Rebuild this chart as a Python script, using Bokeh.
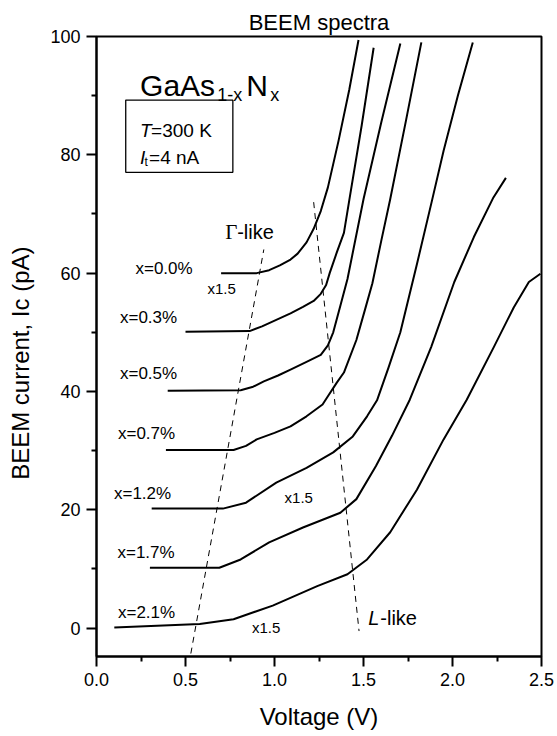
from bokeh.plotting import figure
from bokeh.models import Range1d, FixedTicker, Label, PrintfTickFormatter
from bokeh.embed import file_html
from bokeh.resources import INLINE

# ---------------- data ----------------
labels = ["x=0.0%", "x=0.3%", "x=0.5%", "x=0.7%", "x=1.2%", "x=1.7%", "x=2.1%"]

v_00 = [0.70, 0.90, 0.97, 1.03, 1.09, 1.13, 1.18, 1.22, 1.26, 1.30, 1.36, 1.42, 1.472]
i_00 = [60.0, 60.0, 60.5, 61.3, 62.3, 63.3, 65.2, 67.5, 70.5, 74.5, 82.4, 91.0, 99.4]

v_03 = [0.50, 0.86, 0.93, 1.01, 1.09, 1.16, 1.22, 1.26, 1.29, 1.31, 1.35, 1.39, 1.42, 1.49, 1.557]
i_03 = [50.1, 50.2, 51.0, 52.1, 53.2, 54.3, 55.3, 56.5, 58.0, 60.0, 63.5, 66.8, 72.3, 85.0, 98.1]

v_05 = [0.40, 0.81, 0.88, 0.94, 1.02, 1.09, 1.18, 1.26, 1.30, 1.33, 1.37, 1.41, 1.45, 1.50, 1.60, 1.707]
i_05 = [40.1, 40.2, 40.8, 41.7, 42.7, 43.7, 45.0, 46.2, 47.8, 50.0, 54.5, 59.0, 65.0, 72.5, 85.5, 98.8]

v_07 = [0.39, 0.77, 0.84, 0.90, 1.00, 1.09, 1.18, 1.27, 1.30, 1.35, 1.39, 1.46, 1.51, 1.55, 1.60, 1.65, 1.74, 1.825]
i_07 = [30.1, 30.1, 30.8, 31.9, 33.0, 34.1, 35.8, 37.8, 39.2, 41.5, 43.2, 48.7, 54.0, 58.3, 65.5, 72.5, 86.0, 99.0]

v_12 = [0.31, 0.71, 0.84, 1.01, 1.18, 1.33, 1.44, 1.52, 1.576, 1.64, 1.707, 1.80, 1.885, 1.95, 2.03, 2.114]
i_12 = [20.2, 20.2, 21.2, 24.6, 27.1, 29.7, 32.4, 35.8, 38.5, 44.0, 50.0, 61.5, 72.3, 80.7, 90.0, 99.0]

v_17 = [0.30, 0.69, 0.81, 0.97, 1.16, 1.37, 1.46, 1.57, 1.66, 1.76, 1.88, 2.01, 2.12, 2.23, 2.30]
i_17 = [10.2, 10.2, 11.6, 14.5, 17.0, 19.5, 21.8, 27.4, 32.5, 38.6, 47.5, 58.5, 66.1, 72.8, 76.1]

v_21 = [0.10, 0.58, 0.77, 0.99, 1.24, 1.41, 1.52, 1.65, 1.80, 1.95, 2.08, 2.232, 2.344, 2.429, 2.494]
i_21 = [0.1, 0.7, 1.5, 3.8, 7.1, 9.1, 11.6, 16.2, 23.4, 31.9, 38.6, 47.5, 54.2, 58.5, 59.9]

series_v = [v_00, v_03, v_05, v_07, v_12, v_17, v_21]
series_i = [i_00, i_03, i_05, i_07, i_12, i_17, i_21]

# guide lines (Gamma-like and L-like thresholds)
gamma_v = [0.53, 0.94]
gamma_i = [-4.3, 64.0]
l_v = [1.22, 1.475]
l_i = [72.0, -0.5]

x_ticks = [0.0, 0.5, 1.0, 1.5, 2.0, 2.5]
x_minor = [0.25, 0.75, 1.25, 1.75, 2.25]
y_ticks = [0, 20, 40, 60, 80, 100]
y_minor = [10, 30, 50, 70, 90]

FONT = "Liberation Sans"
NBSP = "\u00a0"

p = figure(width=556, height=735, output_backend="svg", toolbar_location=None,
           x_range=Range1d(0, 2.5), y_range=Range1d(-4.8, 100),
           min_border_left=96, min_border_right=15, min_border_top=36, min_border_bottom=79)
p.grid.visible = False
p.background_fill_color = "white"
p.border_fill_color = "white"
p.outline_line_color = "black"
p.outline_line_width = 2

p.title.text = "BEEM spectra"
p.title.align = "center"
p.title.offset = -3
p.title.text_font = FONT
p.title.text_font_size = "22px"
p.title.text_font_style = "normal"
p.title.text_color = "black"
p.title.standoff = 4

p.xaxis.ticker = FixedTicker(ticks=x_ticks, minor_ticks=x_minor)
p.yaxis.ticker = FixedTicker(ticks=y_ticks, minor_ticks=y_minor)
p.xaxis.formatter = PrintfTickFormatter(format="%.1f")
p.yaxis.formatter = PrintfTickFormatter(format="%d")
for ax in (p.xaxis, p.yaxis):
    ax.axis_line_width = 2
    ax.axis_line_color = "black"
    ax.major_tick_in = 0
    ax.major_tick_out = 10
    ax.minor_tick_in = 0
    ax.minor_tick_out = 5
    ax.major_tick_line_width = 2
    ax.minor_tick_line_width = 2
    ax.major_label_text_font = FONT
    ax.major_label_text_font_size = "18px"
    ax.major_label_text_color = "black"
    ax.major_label_standoff = 6
    ax.axis_label_text_font = FONT
    ax.axis_label_text_font_style = "normal"
    ax.axis_label_text_color = "black"

p.xaxis.axis_label = "Voltage (V)"
p.xaxis.axis_label_text_font_size = "24px"
p.xaxis.axis_label_standoff = 14
p.yaxis.axis_label = "BEEM current, Ic (pA)" + NBSP * 5
p.yaxis.axis_label_text_font_size = "24px"
p.yaxis.axis_label_standoff = 13

# curves
for v, i in zip(series_v, series_i):
    p.line(v, i, line_color="black", line_width=2, line_join="round")

# dashed guides
p.line(gamma_v, gamma_i, line_color="black", line_width=1, line_dash="6 5")
p.line(l_v, l_i, line_color="black", line_width=1, line_dash="6 5")

def px2v(px):
    return (px - 96.5) / 177.8

def py2i(py):
    return (628.0 - py) / 5.923

def lab(text, px, py, size, align="left", baseline="middle", style="normal", font=FONT):
    p.add_layout(Label(x=px2v(px), y=py2i(py), text=text, text_font=font,
                       text_font_size=size, text_font_style=style, text_align=align,
                       text_baseline=baseline, text_color="black"))

# composition labels
lab_pos = [(164, 268), (148.5, 317), (148.5, 373), (146.5, 433), (142.5, 493), (146, 552), (146.5, 612)]
for t, (x, y) in zip(labels, lab_pos):
    lab(t, x, y, "17px", align="center")

# x1.5 marks
lab("x1.5", 221.5, 288, "15px", align="center")
lab("x1.5", 298.5, 497, "15px", align="center")
lab("x1.5", 266, 627, "15px", align="center")

# Gamma-like / L-like
lab("\u0393", 225, 231.7, "21px", baseline="alphabetic", font="Liberation Serif")
lab("-like", 237, 231.7, "20px", baseline="alphabetic")
lab("L", 368, 618.3, "20px", baseline="alphabetic", style="italic")
lab("-like", 380, 618.3, "20px", baseline="alphabetic")

# GaAs(1-x)N(x)
lab("GaAs", 140, 85, "30px", baseline="alphabetic")
lab("1-x", 217, 94, "18px", baseline="alphabetic")
lab("N", 246, 85, "30px", baseline="alphabetic")
lab("x", 270, 94, "18px", baseline="alphabetic")

# parameter box
p.quad(left=[px2v(125.7)], right=[px2v(232.7)], bottom=[py2i(171.7)], top=[py2i(99.3)],
       fill_color="white", line_color="black", line_width=1.3)
lab("T", 140, 130, "19px", baseline="alphabetic", style="italic")
lab("=300 K", 151, 130, "19px", baseline="alphabetic")
lab("I", 140, 156.7, "19px", baseline="alphabetic", style="italic")
lab("t", 144.5, 161, "12px", baseline="alphabetic")
lab("=4 nA", 149, 156.7, "19px", baseline="alphabetic")

open("out.html", "w").write(file_html(p, INLINE))
